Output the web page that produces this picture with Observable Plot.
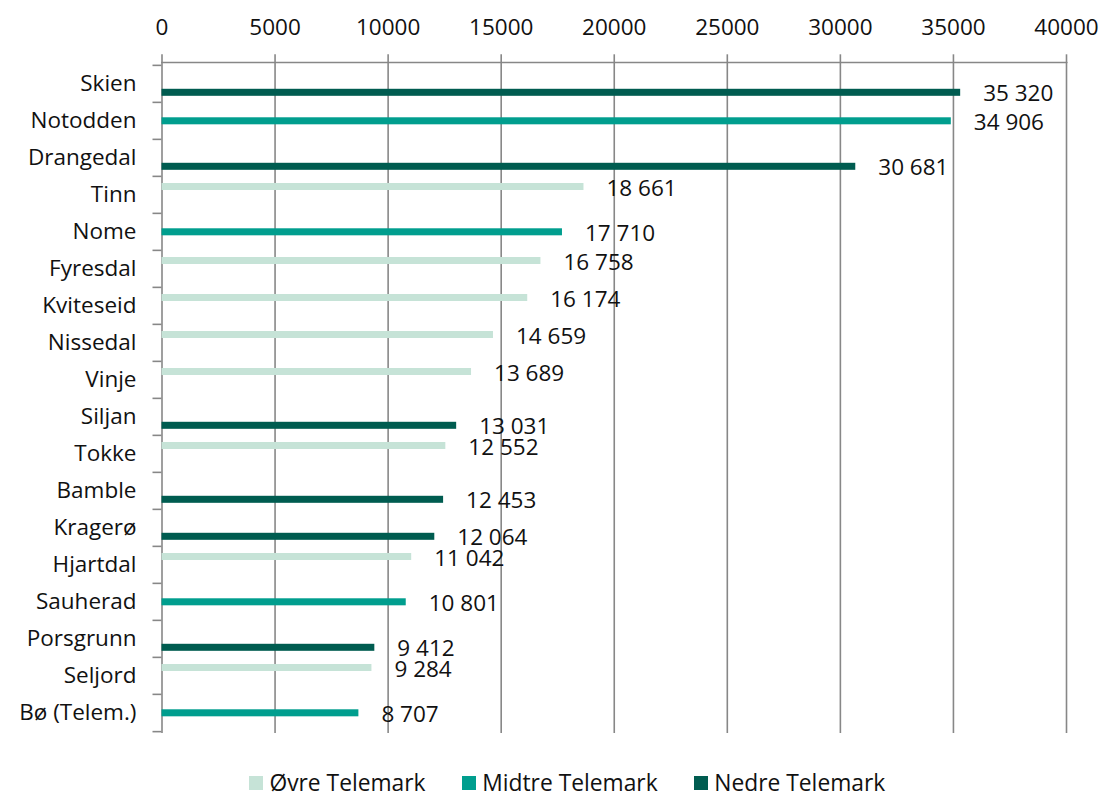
<!DOCTYPE html>
<html>
<head>
<meta charset="utf-8">
<script src="https://cdn.jsdelivr.net/npm/d3@7"></script>
<script src="https://cdn.jsdelivr.net/npm/@observablehq/plot@0.6"></script>
<style>
  body { margin: 0; background: #fff; font-family: "Open Sans", sans-serif; overflow: hidden; }
  #legend { display: flex; justify-content: center; padding-left: 30px; margin-top: 11px; height: 24px; line-height: 24px; align-items: center; font-size: 22.8px; color: #111; }
  .item { display: flex; align-items: center; margin: 0 18px; height: 24px; }
  .sw { width: 14.7px; height: 14.7px; margin-right: 6px; }
</style>
</head>
<body>
<div id="chart"></div>
<div id="legend"></div>
<script>
const municipalities = ["Skien", "Notodden", "Drangedal", "Tinn", "Nome", "Fyresdal", "Kviteseid", "Nissedal", "Vinje", "Siljan", "Tokke", "Bamble", "Kragerø", "Hjartdal", "Sauherad", "Porsgrunn", "Seljord", "Bø (Telem.)"];
const values = [35320, 34906, 30681, 18661, 17710, 16758, 16174, 14659, 13689, 13031, 12552, 12453, 12064, 11042, 10801, 9412, 9284, 8707];
const regions = ["Nedre Telemark", "Midtre Telemark", "Nedre Telemark", "Øvre Telemark", "Midtre Telemark", "Øvre Telemark", "Øvre Telemark", "Øvre Telemark", "Øvre Telemark", "Nedre Telemark", "Øvre Telemark", "Nedre Telemark", "Nedre Telemark", "Øvre Telemark", "Midtre Telemark", "Nedre Telemark", "Øvre Telemark", "Midtre Telemark"];
const seriesNames = ["Øvre Telemark", "Midtre Telemark", "Nedre Telemark"];
const seriesColors = ["#c6e3d7", "#009e8e", "#005c50"];
const xTicks = [0, 5000, 10000, 15000, 20000, 25000, 30000, 35000, 40000];

const W = 1104, H = 760, mT = 62, mB = 27, mL = 161.5, mR = 38;
const bw = (H - mT - mB) / municipalities.length;
const thick = 7.3;
const offsets = {"Øvre Telemark": -8, "Midtre Telemark": 0.3, "Nedre Telemark": 8.8};
const gray = "#878787";
const fmt = d3.formatLocale({thousands: " ", grouping: [3], decimal: ",", currency: ["", ""]}).format(",");

const data = municipalities.map((m, i) => ({name: m, value: values[i], region: regions[i]}));

const barMarks = seriesNames.map(s => {
  const top = bw / 2 + offsets[s] - thick / 2;
  return Plot.barX(data.filter(d => d.region === s), {
    x: "value", y: "name", fill: "region",
    insetTop: top, insetBottom: bw - top - thick
  });
});
const labelMarks = seriesNames.map(s => Plot.text(data.filter(d => d.region === s), {
  x: "value", y: "name", text: d => fmt(d.value),
  textAnchor: "start", dx: 22.5, dy: offsets[s] + 1.3, fill: "#111"
}));

const chart = Plot.plot({
  width: W, height: H,
  marginTop: mT, marginBottom: mB, marginLeft: mL, marginRight: mR,
  style: {fontFamily: '"Open Sans", sans-serif', fontSize: "22.5px", color: "#111", background: "#fff"},
  x: {domain: [0, 40000]},
  y: {domain: municipalities, padding: 0},
  color: {domain: seriesNames, range: seriesColors},
  marks: [
    Plot.ruleX(xTicks, {stroke: gray, strokeWidth: 1.6}),
    Plot.frame({anchor: "top", stroke: gray, strokeWidth: 1.6}),
    Plot.axisX({anchor: "top", ticks: xTicks, tickSize: 8.7, tickPadding: 19, tickFormat: d => String(d), label: null, stroke: gray, strokeWidth: 1.6, fill: "#111"}),
    Plot.axisY({anchor: "left", tickSize: 0, tickPadding: 25.5, label: null, fill: "#111"}),
    Plot.axisY({anchor: "left", tickSize: 9, tickFormat: () => "", label: null, dy: -bw / 2, stroke: gray, strokeWidth: 1.6}),
    Plot.axisY({anchor: "left", ticks: [municipalities[municipalities.length - 1]], tickSize: 9, tickFormat: () => "", label: null, dy: bw / 2, stroke: gray, strokeWidth: 1.6}),
    ...barMarks,
    ...labelMarks
  ]
});
document.getElementById("chart").appendChild(chart);

const legend = document.getElementById("legend");
seriesNames.forEach((s, i) => {
  const item = document.createElement("div");
  item.className = "item";
  const sw = document.createElement("span");
  sw.className = "sw";
  sw.style.background = seriesColors[i];
  const t = document.createElement("span");
  t.textContent = s;
  item.appendChild(sw);
  item.appendChild(t);
  legend.appendChild(item);
});
</script>
</body>
</html>
